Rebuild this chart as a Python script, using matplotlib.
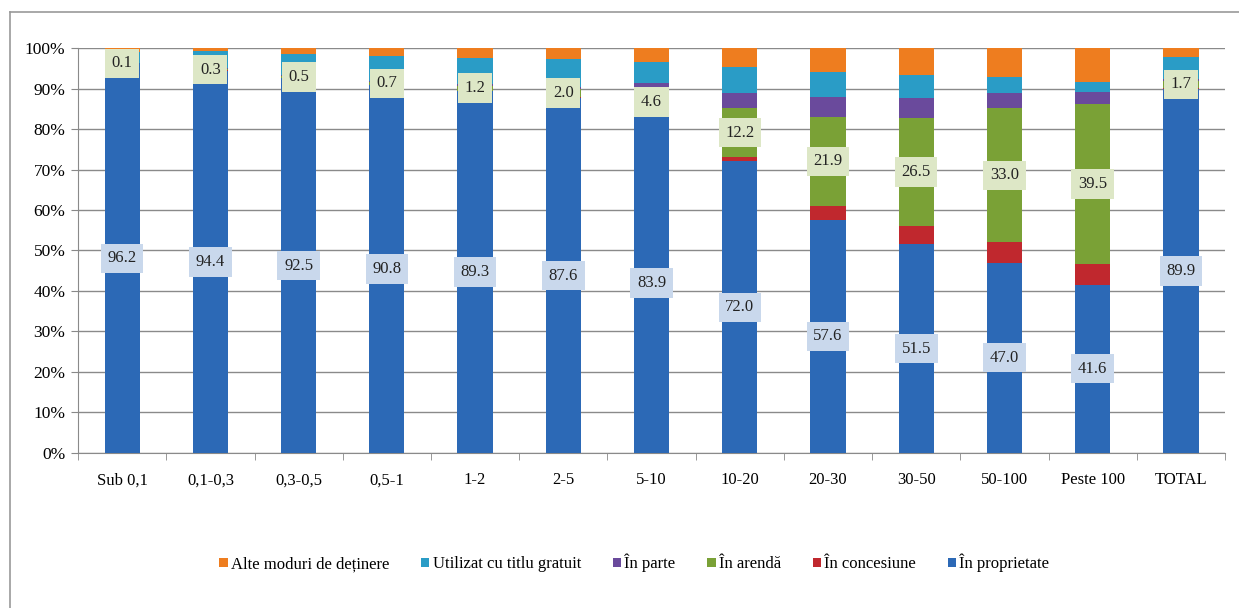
import numpy as np
import matplotlib
matplotlib.use("Agg")
import matplotlib.pyplot as plt
from matplotlib.lines import Line2D
from matplotlib.ticker import FixedLocator

plt.rcParams['font.family'] = ['Liberation Serif', 'DejaVu Serif']

# categories (size classes, ha)
categories = ['Sub 0,1', '0,1-0,3', '0,3-0,5', '0,5-1', '1-2', '2-5', '5-10',
              '10-20', '20-30', '30-50', '50-100', 'Peste 100', 'TOTAL']

# shares in %
proprietate = [96.2, 94.4, 92.5, 90.8, 89.3, 87.6, 83.9, 72.0, 57.6, 51.5, 47.0, 41.6, 89.9]
concesiune = [0.0, 0.1, 0.1, 0.1, 0.2, 0.3, 0.5, 1.0, 3.5, 4.6, 5.1, 5.1, 0.3]
arenda = [0.1, 0.3, 0.5, 0.7, 1.2, 2.0, 4.6, 12.2, 21.9, 26.5, 33.0, 39.5, 1.7]
in_parte = [0.1, 0.2, 0.2, 0.3, 0.3, 0.5, 2.4, 3.6, 4.9, 5.0, 3.7, 3.0, 0.5]
gratuit = [2.6, 4.2, 5.2, 6.1, 6.5, 6.8, 5.2, 6.5, 6.2, 5.7, 4.1, 2.5, 5.5]
alte = [1.0, 0.8, 1.5, 2.0, 2.5, 2.8, 3.4, 4.7, 5.9, 6.7, 7.1, 8.3, 2.1]

series = [
    ('În proprietate', proprietate, '#2C69B6'),
    ('În concesiune', concesiune, '#C0282E'),
    ('În arendă', arenda, '#7AA136'),
    ('În parte', in_parte, '#6A4A9C'),
    ('Utilizat cu titlu gratuit', gratuit, '#2A9CC6'),
    ('Alte moduri de deținere', alte, '#EE7D1F'),
]

fig = plt.figure(figsize=(12.39, 6.08), dpi=100)
ax = fig.add_axes([0.063, 0.255, 0.9257, 0.666])

x = np.arange(len(categories))
bottom = np.zeros(len(categories))
handles = {}
for name, vals, col in series:
    vals = np.array(vals)
    b = ax.bar(x, vals, 0.40, bottom=bottom, color=col, edgecolor='none',
               zorder=3, label=name)
    handles[name] = b
    # labels only for proprietate and arenda
    if name == 'În proprietate':
        for xi, bo, v in zip(x, bottom, vals):
            ax.text(xi, bo + v / 2, f'{v:.1f}', ha='center', va='center',
                    fontsize=12, color='#222222', zorder=5,
                    bbox=dict(boxstyle='square,pad=0.4', fc='#C9D8EC',
                              ec='none'))
    elif name == 'În arendă':
        for xi, bo, v in zip(x, bottom, vals):
            ax.text(xi, bo + v / 2, f'{v:.1f}', ha='center', va='center',
                    fontsize=12, color='#222222', zorder=5,
                    bbox=dict(boxstyle='square,pad=0.4', fc='#DDE7C6',
                              ec='none'))
    bottom += vals

ax.set_xlim(-0.5, len(categories) - 0.5)
ax.set_ylim(0, 100)
ax.set_yticks(np.arange(0, 101, 10))
ax.set_yticklabels([f'{v}%' for v in range(0, 101, 10)], fontsize=12.5)
ax.set_xticks(x)
ax.set_xticklabels(categories, fontsize=12)
ax.tick_params(axis='x', which='major', length=0, pad=14)
ax.xaxis.set_minor_locator(FixedLocator(np.arange(-0.5, len(categories), 1)))
ax.tick_params(axis='x', which='minor', length=5, color='#888888')
ax.tick_params(axis='y', length=5, color='#888888', pad=4)

ax.grid(axis='y', color='#8a8a8a', linewidth=1, zorder=0)
for s in ['top', 'right']:
    ax.spines[s].set_visible(False)
for s in ['left', 'bottom']:
    ax.spines[s].set_color('#8a8a8a')

order = ['Alte moduri de deținere', 'Utilizat cu titlu gratuit', 'În parte',
         'În arendă', 'În concesiune', 'În proprietate']
leg = fig.legend([handles[n] for n in order], order, loc='center',
                 bbox_to_anchor=(0.512, 0.074), ncol=6, frameon=False,
                 fontsize=12, handlelength=0.5, handleheight=0.5,
                 handletextpad=0.2, columnspacing=1.9)

# outer chart frame
fig.add_artist(Line2D([0.008, 1.0], [0.981, 0.981], color='#999999', lw=1.2))
fig.add_artist(Line2D([0.008, 0.008], [0.0, 0.981], color='#999999', lw=1.2))

fig.savefig('out.png', dpi=100)
